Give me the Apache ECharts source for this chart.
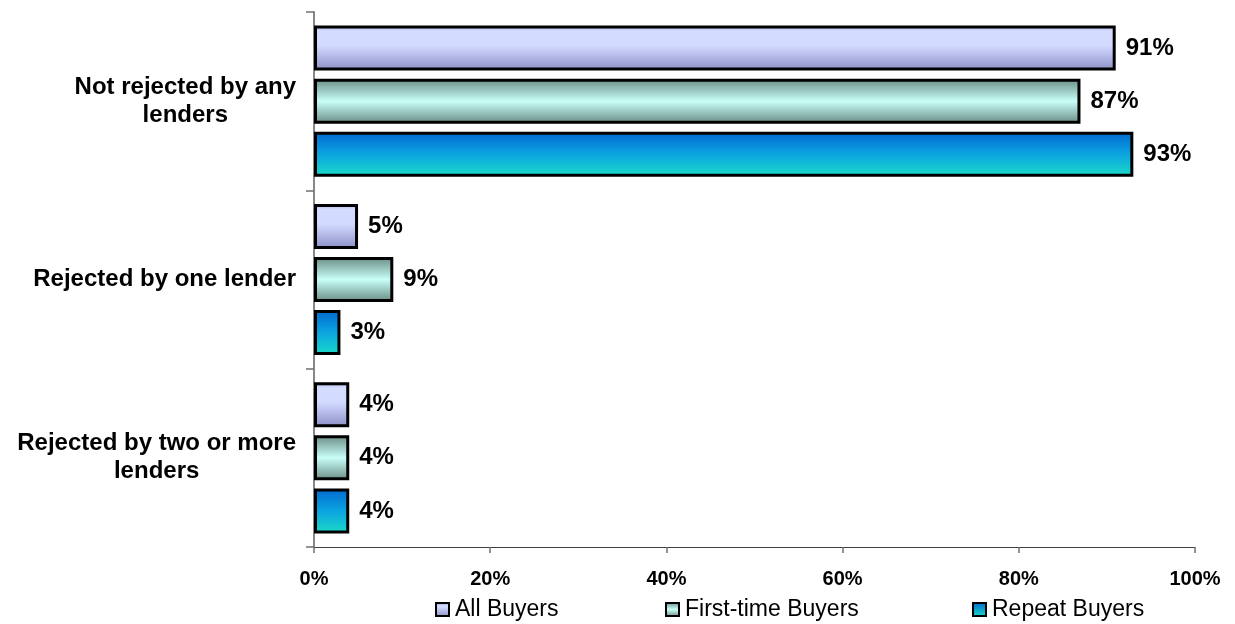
<!DOCTYPE html>
<html>
<head>
<meta charset="utf-8">
<style>
  html, body { margin: 0; padding: 0; background: #ffffff; }
  #chart { width: 1235px; height: 624px; }
</style>
<script src="https://cdn.jsdelivr.net/npm/echarts@6/dist/echarts.min.js"></script>
</head>
<body>
<div id="chart"></div>
<script>
// Categories (top to bottom) and the share of buyers in each group
const categories = [
  'Not rejected by any\nlenders',
  'Rejected by one lender',
  'Rejected by two or more\nlenders'
];
const seriesNames = ['All Buyers', 'First-time Buyers', 'Repeat Buyers'];
const allBuyers = [91, 5, 4];
const firstTimeBuyers = [87, 9, 4];
const repeatBuyers = [93, 3, 4];
const xTicks = [0, 20, 40, 60, 80, 100];

function vGrad(stops) {
  return new echarts.graphic.LinearGradient(0, 0, 0, 1,
    stops.map(s => ({ offset: s[0], color: s[1] })));
}

const fills = [
  vGrad([[0, '#a4acdc'], [0.12, '#d4dcff'], [0.45, '#d2daff'], [1, '#8c8ec6']]),
  vGrad([[0, '#688a84'], [0.5, '#c8fff8'], [1, '#688a84']]),
  vGrad([[0, '#0068d0'], [0.5, '#0ca4e0'], [1, '#1adcc8']])
];
const legendFills = [
  vGrad([[0, '#a4acdc'], [0.3, '#d4dcff'], [1, '#8c8ec6']]),
  vGrad([[0, '#688a84'], [0.5, '#c8fff8'], [1, '#688a84']]),
  vGrad([[0, '#0068d0'], [1, '#1adcc8']])
];

const values = [allBuyers, firstTimeBuyers, repeatBuyers];
const font = 'Arial, "Liberation Sans", sans-serif';

const series = seriesNames.map((name, i) => ({
  name: name,
  type: 'bar',
  data: values[i],
  barWidth: 45,
  barGap: '18%',
  itemStyle: { color: fills[i], borderColor: '#000', borderWidth: 3 },
  label: {
    show: true,
    position: 'right',
    distance: 10,
    formatter: p => p.value + '%',
    color: '#000',
    fontFamily: font,
    fontWeight: 'bold',
    fontSize: 24
  },
  emphasis: { disabled: true }
}));

// one legend block per series, spread along the bottom edge
const legendLefts = [435, 665, 972];
const legends = seriesNames.map((name, i) => ({
  data: [{ name: name, itemStyle: { color: legendFills[i], borderColor: '#000', borderWidth: 2 } }],
  left: legendLefts[i],
  top: 598,
  padding: 0,
  icon: 'rect',
  itemWidth: 13,
  itemHeight: 13,
  itemGap: 0,
  selectedMode: false,
  textStyle: { color: '#000', fontFamily: font, fontSize: 23, padding: [0, 0, 0, 1] }
}));

const chart = echarts.init(document.getElementById('chart'), null, { renderer: 'canvas' });
chart.setOption({
  animation: false,
  backgroundColor: '#ffffff',
  legend: legends,
  grid: { left: 314, right: 40, top: 12, bottom: 77, containLabel: false },
  xAxis: {
    type: 'value',
    min: xTicks[0],
    max: xTicks[xTicks.length - 1],
    interval: xTicks[1] - xTicks[0],
    splitLine: { show: false },
    axisLine: { show: true, lineStyle: { color: '#404040', width: 1.2 } },
    axisTick: { show: true, length: 6, lineStyle: { color: '#707070', width: 1.5 } },
    axisLabel: {
      formatter: v => v + '%',
      color: '#000',
      fontFamily: font,
      fontWeight: 'bold',
      fontSize: 20,
      margin: 22
    }
  },
  yAxis: {
    type: 'category',
    data: categories,
    inverse: true,
    axisLine: { show: true, lineStyle: { color: '#888', width: 2 } },
    axisTick: { show: true, length: 8, lineStyle: { color: '#707070', width: 1.5 } },
    axisLabel: {
      margin: 18,
      formatter: v => v.split('\n').map(s => '{c|' + s + '}').join('\n'),
      rich: {
        c: {
          align: 'center',
          color: '#000',
          fontFamily: font,
          fontWeight: 'bold',
          fontSize: 24,
          lineHeight: 28
        }
      }
    }
  },
  series: series
});
</script>
</body>
</html>
